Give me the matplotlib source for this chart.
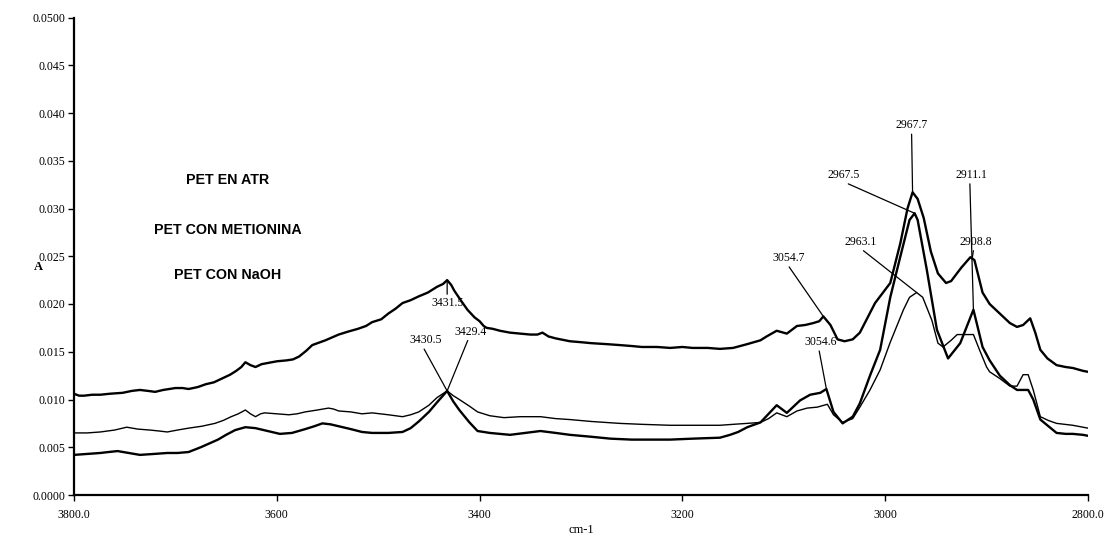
import matplotlib
matplotlib.use("Agg")
import matplotlib.pyplot as plt

# ---------------- data ----------------
# PET EN ATR (upper, thick)
wn_atr = [3800, 3795, 3790, 3782, 3774, 3765, 3752, 3743, 3735, 3727, 3720, 3712, 3700,
          3693, 3687, 3678, 3670, 3662, 3654, 3646, 3640, 3635, 3631, 3626, 3621, 3615,
          3610, 3600, 3590, 3584, 3578, 3571, 3565, 3552, 3539, 3530, 3520, 3512, 3506,
          3497, 3490, 3483, 3476, 3468, 3460, 3451, 3442, 3436, 3432, 3428, 3425, 3418,
          3412, 3405, 3400, 3396, 3393, 3387, 3380, 3370, 3360, 3350, 3343, 3338, 3332,
          3325, 3311, 3300, 3290, 3275, 3262, 3250, 3240, 3225, 3212, 3200, 3190, 3175,
          3163, 3150, 3136, 3123, 3117, 3107, 3097, 3087, 3079, 3071, 3065, 3061, 3054,
          3047, 3040, 3032, 3025, 3010, 2995, 2985, 2978, 2973, 2968, 2962, 2955, 2948,
          2940, 2935, 2925, 2916, 2912, 2904, 2897, 2887, 2877, 2870, 2864, 2857, 2852,
          2847, 2840, 2831, 2822, 2815, 2805, 2800]
a_atr = [0.0106, 0.0104, 0.0104, 0.0105, 0.0105, 0.0106, 0.0107, 0.0109, 0.0110, 0.0109,
         0.0108, 0.0110, 0.0112, 0.0112, 0.0111, 0.0113, 0.0116, 0.0118, 0.0122, 0.0126,
         0.0130, 0.0134, 0.0139, 0.0136, 0.0134, 0.0137, 0.0138, 0.0140, 0.0141, 0.0142,
         0.0145, 0.0151, 0.0157, 0.0162, 0.0168, 0.0171, 0.0174, 0.0177, 0.0181, 0.0184,
         0.0190, 0.0195, 0.0201, 0.0204, 0.0208, 0.0212, 0.0218, 0.0221, 0.0225, 0.0220,
         0.0214, 0.0203, 0.0194, 0.0186, 0.0182, 0.0177, 0.0175, 0.0174, 0.0172, 0.0170,
         0.0169, 0.0168, 0.0168, 0.0170, 0.0166, 0.0164, 0.0161, 0.0160, 0.0159, 0.0158,
         0.0157, 0.0156, 0.0155, 0.0155, 0.0154, 0.0155, 0.0154, 0.0154, 0.0153, 0.0154,
         0.0158, 0.0162, 0.0166, 0.0172, 0.0169, 0.0177, 0.0178, 0.0180, 0.0182, 0.0187,
         0.0178, 0.0163, 0.0161, 0.0163, 0.0170, 0.0201, 0.0222, 0.0264, 0.0300, 0.0317,
         0.0310, 0.0290, 0.0255, 0.0232, 0.0222, 0.0224, 0.0238, 0.0249, 0.0246, 0.0212,
         0.0200, 0.0190, 0.0180, 0.0176, 0.0178, 0.0185, 0.0170, 0.0152, 0.0143, 0.0136,
         0.0134, 0.0133, 0.0130, 0.0129]

# PET CON METIONINA (middle, thin)
wn_met = [3800, 3787, 3774, 3760, 3748, 3737, 3725, 3716, 3708, 3698, 3687, 3674, 3661,
          3653, 3645, 3638, 3631, 3626, 3621, 3616, 3612, 3600, 3588, 3580, 3572, 3560,
          3549, 3544, 3539, 3527, 3516, 3506, 3490, 3476, 3468, 3460, 3450, 3442, 3432,
          3426, 3420, 3410, 3402, 3390, 3376, 3360, 3340, 3325, 3311, 3290, 3262, 3240,
          3212, 3190, 3163, 3150, 3136, 3123, 3115, 3107, 3097, 3087, 3077, 3067, 3057,
          3051, 3042, 3032, 3025, 3015, 3005, 2995, 2982, 2976, 2969, 2963, 2954, 2948,
          2943, 2935, 2929, 2913, 2907, 2900, 2897, 2887, 2877, 2870, 2864, 2859, 2854,
          2847, 2839, 2831, 2815, 2805, 2800]
a_met = [0.0065, 0.0065, 0.0066, 0.0068, 0.0071, 0.0069, 0.0068, 0.0067, 0.0066, 0.0068,
         0.0070, 0.0072, 0.0075, 0.0078, 0.0082, 0.0085, 0.0089, 0.0085, 0.0082, 0.0085,
         0.0086, 0.0085, 0.0084, 0.0085, 0.0087, 0.0089, 0.0091, 0.0090, 0.0088, 0.0087,
         0.0085, 0.0086, 0.0084, 0.0082, 0.0084, 0.0087, 0.0094, 0.0102, 0.0109, 0.0104,
         0.0100, 0.0093, 0.0087, 0.0083, 0.0081, 0.0082, 0.0082, 0.0080, 0.0079, 0.0077,
         0.0075, 0.0074, 0.0073, 0.0073, 0.0073, 0.0074, 0.0075, 0.0076, 0.0080, 0.0086,
         0.0082, 0.0088, 0.0091, 0.0092, 0.0095, 0.0084, 0.0076, 0.0080, 0.0092, 0.0110,
         0.0131, 0.0160, 0.0194, 0.0207, 0.0212, 0.0207, 0.0183, 0.0159, 0.0155, 0.0162,
         0.0168, 0.0168, 0.0152, 0.0134, 0.0129, 0.0122, 0.0114, 0.0114, 0.0126, 0.0126,
         0.0110, 0.0082, 0.0078, 0.0075, 0.0073, 0.0071, 0.0070]

# PET CON NaOH (lower, thick)
wn_naoh = [3800, 3787, 3774, 3766, 3757, 3746, 3735, 3721, 3708, 3698, 3687, 3675, 3658,
           3650, 3641, 3631, 3621, 3609, 3597, 3585, 3572, 3563, 3555, 3547, 3539, 3527,
           3516, 3506, 3490, 3476, 3468, 3460, 3450, 3442, 3432, 3426, 3420, 3410, 3402,
           3390, 3370, 3355, 3340, 3325, 3311, 3290, 3271, 3250, 3212, 3190, 3163, 3153,
           3145, 3136, 3123, 3115, 3107, 3097, 3084, 3074, 3064, 3058, 3051, 3042, 3032,
           3025, 3015, 3005, 2995, 2985, 2976, 2971, 2968, 2959, 2949, 2938, 2926, 2913,
           2904, 2897, 2887, 2877, 2870, 2859, 2854, 2847, 2831, 2822, 2815, 2805, 2800]
a_naoh = [0.0042, 0.0043, 0.0044, 0.0045, 0.0046, 0.0044, 0.0042, 0.0043, 0.0044, 0.0044,
          0.0045, 0.0050, 0.0058, 0.0063, 0.0068, 0.0071, 0.0070, 0.0067, 0.0064, 0.0065,
          0.0069, 0.0072, 0.0075, 0.0074, 0.0072, 0.0069, 0.0066, 0.0065, 0.0065, 0.0066,
          0.0070, 0.0077, 0.0087, 0.0097, 0.0109, 0.0098, 0.0089, 0.0076, 0.0067, 0.0065,
          0.0063, 0.0065, 0.0067, 0.0065, 0.0063, 0.0061, 0.0059, 0.0058, 0.0058, 0.0059,
          0.0060, 0.0063, 0.0066, 0.0071, 0.0076, 0.0085, 0.0094, 0.0086, 0.0099, 0.0105,
          0.0107, 0.0111, 0.0087, 0.0075, 0.0082, 0.0096, 0.0125, 0.0152, 0.0207, 0.0250,
          0.0288, 0.0295, 0.0288, 0.0236, 0.0173, 0.0143, 0.0159, 0.0194, 0.0155, 0.0141,
          0.0125, 0.0115, 0.0110, 0.0110, 0.0100, 0.0079, 0.0065, 0.0064, 0.0064, 0.0063,
          0.0062]

# peak labels: text, label position (wn, A), peak position (wn, A)
peak_text = ["3431.5", "3430.5", "3429.4", "3054.7", "3054.6",
             "2967.7", "2967.5", "2963.1", "2911.1", "2908.8"]
peak_label_wn = [3432, 3453, 3409, 3095, 3064, 2974, 3041, 3024, 2915, 2911]
peak_label_a = [0.0201, 0.0162, 0.0171, 0.0248, 0.0160, 0.0387, 0.0335, 0.0265, 0.0335, 0.0265]
peak_wn = [3432, 3432, 3432, 3061, 3058, 2973, 2971, 2969, 2913, 2914]
peak_a = [0.0225, 0.0109, 0.0109, 0.0187, 0.0111, 0.0317, 0.0295, 0.0212, 0.0194, 0.0249]

series_names = ["PET EN ATR", "PET CON METIONINA", "PET CON NaOH"]

y_ticks = [0.0, 0.005, 0.010, 0.015, 0.020, 0.025, 0.030, 0.035, 0.040, 0.045, 0.050]
y_tick_labels = ["0.0000", "0.005", "0.010", "0.015", "0.020", "0.025", "0.030",
                 "0.035", "0.040", "0.045", "0.0500"]
x_ticks = [3800, 3600, 3400, 3200, 3000, 2800]
x_tick_labels = ["3800.0", "3600", "3400", "3200", "3000", "2800.0"]

# ---------------- figure ----------------
W, H = 1108, 541
fig = plt.figure(figsize=(W / 100, H / 100), dpi=100)
ax = fig.add_axes([74 / W, 46 / H, (1088 - 74) / W, (495 - 17.5) / H])

ax.plot(wn_atr, a_atr, color="black", lw=1.7, solid_joinstyle="round")
ax.plot(wn_met, a_met, color="black", lw=1.0, solid_joinstyle="round")
ax.plot(wn_naoh, a_naoh, color="black", lw=1.7, solid_joinstyle="round")

ax.set_xlim(3800, 2800)
ax.set_ylim(0, 0.05)

serif = ["Liberation Serif", "DejaVu Serif"]
ax.set_yticks(y_ticks)
ax.set_yticklabels(y_tick_labels, family=serif, fontsize=8.5)
ax.set_xticks(x_ticks)
ax.set_xticklabels(x_tick_labels, family=serif, fontsize=8.5)
ax.tick_params(axis="both", direction="out", length=4, width=1, colors="black", pad=2)
ax.tick_params(axis="x", pad=6)

for s in ["top", "right"]:
    ax.spines[s].set_visible(False)
for s in ["left", "bottom"]:
    ax.spines[s].set_linewidth(1.6)

ax.set_xlabel("cm-1", family=serif, fontsize=9, labelpad=2)
fig.text(38 / W, 1 - 267 / H, "A", family=serif, fontsize=9, fontweight="bold",
         ha="center", va="center")

# series names as plain text
name_pos = [(228, 180), (228, 230), (228, 275)]
for name, (px, py) in zip(series_names, name_pos):
    fig.text(px / W, 1 - py / H, name, family=["Liberation Sans", "DejaVu Sans"],
             fontsize=10.3, fontweight="bold", ha="center", va="center")

# peak annotations
relpos = [(0.5, 1.0), (0.4, 0.0), (0.45, 0.0), (0.45, 0.0), (0.45, 0.0),
          (0.5, 0.0), (0.45, 0.0), (0.47, 0.0), (0.45, 0.0), (0.45, 0.0)]
for t, lx, ly, px, py, rp in zip(peak_text, peak_label_wn, peak_label_a,
                                  peak_wn, peak_a, relpos):
    ax.annotate(t, xy=(px, py), xytext=(lx, ly), family=serif, fontsize=8.5,
                ha="center", va="center",
                arrowprops=dict(arrowstyle="-", lw=0.9, color="black",
                                shrinkA=0, shrinkB=0, relpos=rp))

fig.savefig("out.png", dpi=100)
